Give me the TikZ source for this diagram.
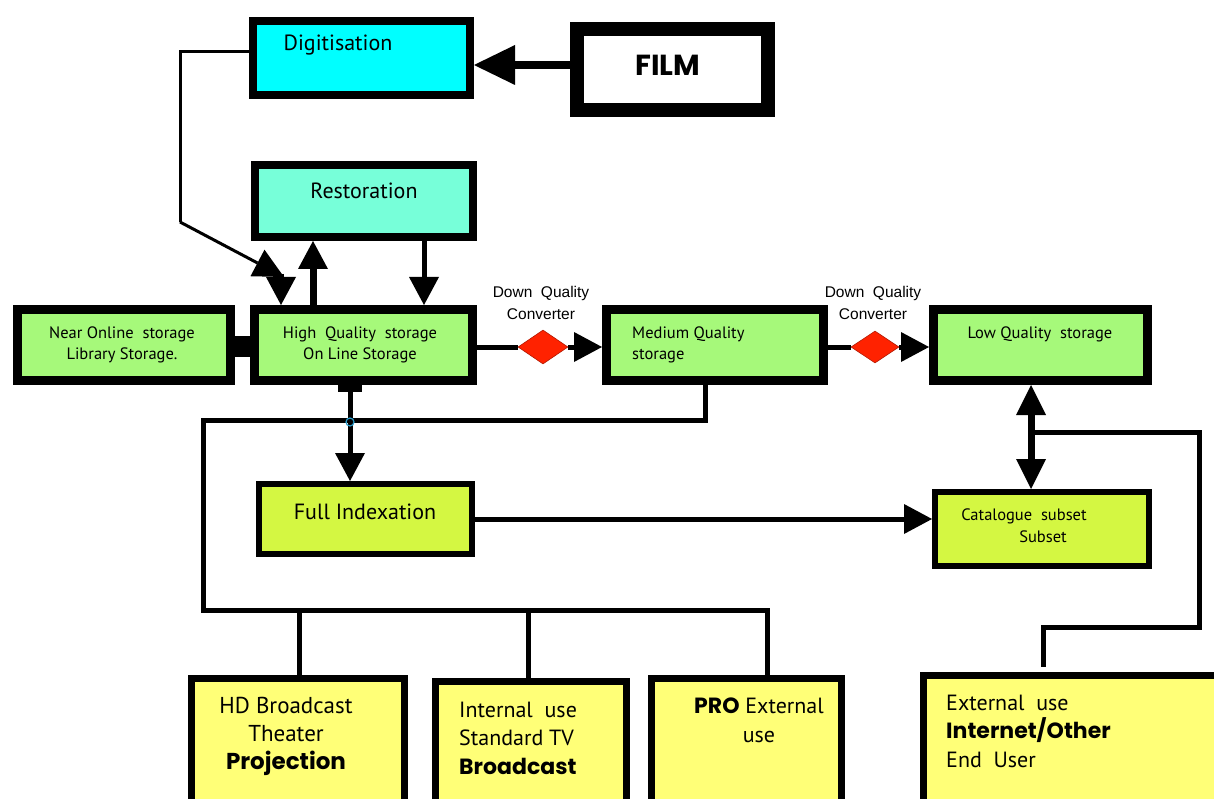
\documentclass[tikz,border=0pt]{standalone}
\usepackage{fontspec}
\setmainfont{PT Sans}
\newfontfamily\arialf{Liberation Sans}
\newfontfamily\heavy{Poppins}
\newcommand{\hv}[1]{{\heavy\bfseries #1}}
\usetikzlibrary{arrows.meta,shapes.geometric}
\definecolor{cdig}{HTML}{00FFFF}
\definecolor{crest}{HTML}{77FFD9}
\definecolor{cgreen}{HTML}{A6F97A}
\definecolor{cyg}{HTML}{D4F742}
\definecolor{cyel}{HTML}{FFFF77}
\definecolor{cred}{HTML}{FF2200}
\tikzset{
  blk/.style={draw=black, inner sep=0pt, align=center},
  txt/.style={inner sep=0pt, align=center},
  small/.style={font=\fontsize{16.5}{21}\selectfont},
  conn/.style={line width=5pt},
  tipA/.style={-{Triangle[length=28pt,width=30pt,line width=0pt]}},
  tipB/.style={-{Triangle[length=41pt,width=40pt,line width=0pt]}},
  conv/.style={diamond, draw=cred!70!black, line width=0.6pt, fill=cred, inner sep=0pt, minimum width=#1, minimum height=34pt},
}
\begin{document}
\begin{tikzpicture}[x=1pt,y=-1pt]
\clip (0,0) rectangle (1214,799);
\fill[white] (0,0) rectangle (1214,799);
% boxes
\node[blk, line width=8pt, fill=cdig, minimum width=217pt, minimum height=74pt] (dig) at (361.5,58) {};
\node[txt, font=\fontsize{22}{24}\selectfont] (digt) at (338,45) {Digitisation};
\node[blk, line width=14pt, fill=white, minimum width=191pt, minimum height=81pt] (film) at (672.5,69.5) {};
\node[txt, font=\heavy\bfseries\fontsize{29}{32}\selectfont] (filmt) at (668,65) {FILM};
\node[blk, line width=8pt, fill=crest, minimum width=218pt, minimum height=72pt] (rest) at (364,201) {};
\node[txt, font=\fontsize{22}{24}\selectfont] (restt) at (364,191) {Restoration};
\node[blk, line width=9pt, fill=cgreen, minimum width=213pt, minimum height=71pt] (near) at (124,345) {};
\node[txt, small] (neart) at (122,345) {Near Online\ \ storage\\Library Storage.};
\node[blk, line width=9pt, fill=cgreen, minimum width=218pt, minimum height=71pt] (hq) at (363.5,345) {};
\node[txt, small] (hqt) at (360,345) {High\ \ Quality\ \ storage\\On Line Storage};
\node[blk, line width=9pt, fill=cgreen, minimum width=217pt, minimum height=71pt] (med) at (715,345) {};
\node[txt, small, align=left, anchor=west] (medt) at (632,345) {Medium Quality\\storage};
\node[blk, line width=9pt, fill=cgreen, minimum width=214pt, minimum height=71pt] (low) at (1040.5,345) {};
\node[txt, small] (lowt) at (1040,334) {Low Quality\ \ storage};
\node[blk, line width=6pt, fill=cyg, minimum width=213pt, minimum height=70pt] (full) at (365.5,519) {};
\node[txt, font=\fontsize{22}{24}\selectfont] (fullt) at (365,512) {Full Indexation};
\node[blk, line width=6pt, fill=cyg, minimum width=214pt, minimum height=74pt] (cat) at (1042,529) {};
\node[txt, small] (catt1) at (1024,516) {Catalogue\ \ subset};
\node[txt, small] (catt2) at (1043,537) {Subset};
\node[blk, line width=7pt, fill=cyel, minimum width=213pt, minimum height=131pt] (hd) at (298,744) {};
\node[txt, font=\fontsize{23}{28}\selectfont] (hdt) at (286,736) {HD Broadcast\\Theater\\\hv{Projection}};
\node[blk, line width=7pt, fill=cyel, minimum width=191pt, minimum height=128pt] (int) at (531,745.5) {};
\node[txt, align=left, anchor=west, font=\fontsize{22}{28.5}\selectfont] (intt) at (459,738) {Internal\ \ use\\Standard TV\\\hv{Broadcast}};
\node[blk, line width=7pt, fill=cyel, minimum width=190pt, minimum height=131pt] (pro) at (746.5,744) {};
\node[txt, font=\fontsize{22}{29}\selectfont] (prot) at (759,720) {\hv{PRO} External\\use};
\node[blk, line width=7pt, fill=cyel, minimum width=303pt, minimum height=131pt] (ext) at (1075,741) {};
\node[txt, align=left, anchor=west, font=\fontsize{22}{28.5}\selectfont] (extt) at (946,731) {External\ \ use\\\hv{Internet/Other}\\End\ \ User};
% converters
\node[conv=50pt] (d1) at (543,347) {};
\node[conv=48pt, minimum height=32pt] (d2) at (875,347) {};
\node[txt, font=\arialf\fontsize{15.5}{22}\selectfont] (dq1) at (541,303) {Down\ \ Quality\\Converter};
\node[txt, font=\arialf\fontsize{15.5}{22}\selectfont] (dq2) at (873,303) {Down\ \ Quality\\Converter};
% film -> digitisation
\draw[line width=8pt, tipB] (film.west |- 0,65) -- (dig.east |- 0,65);
% digitisation -> high quality
\coordinate (c1) at (180,52);
\coordinate (c2) at (180,222);
\coordinate (c3) at (284,277);
\draw[line width=3pt, line join=miter] (dig.west |- c1) -- (c1) -- (c2);
\draw[line width=3pt, -{Triangle[length=30pt,width=30pt,line width=0pt]}] (c2) -- (c3);
\draw[line width=5pt, tipA] (281,274) -- (hq.north -| 281,0);
% hq <-> restoration
\draw[line width=7pt, tipA] (hq.north -| 313,0) -- (rest.south -| 313,0);
\draw[line width=5pt, tipA] (rest.south -| 424,0) -- (hq.north -| 424,0);
% near - hq bar
\fill (235,336) rectangle (250,357);
% converters chain
\draw[conn] (hq.east |- d1) -- (d1.west);
\draw[conn, tipA] (d1.east) -- (med.west |- d1);
\draw[conn] (med.east |- d2) -- (d2.west);
\draw[conn, tipA] (d2.east) -- (low.west |- d2);
% hq -> full indexation
\fill (338,385) rectangle (362,392);
\draw[conn, tipA] (350,390) -- (full.north -| 350,0);
% bus
\coordinate (b1) at (705,420);
\coordinate (b2) at (203,420);
\coordinate (b3) at (203,610);
\coordinate (b4) at (767,610);
\draw[conn, line join=miter] (med.south -| b1) -- (b1) -- (b2) -- (b3) -- (b4) -- (pro.north -| b4);
\draw[conn] (299,610) -- (hd.north -| 299,0);
\draw[conn] (528,610) -- (int.north -| 528,0);
\draw[cyan!80!black, line width=1.2pt] (350,422) circle (4pt);
% full -> catalogue
\draw[conn, tipA] (full.east |- 0,519) -- (cat.west |- 0,519);
% low <-> catalogue
\draw[line width=7pt, {Triangle[length=30pt,width=30pt,line width=0pt]}-{Triangle[length=30pt,width=30pt,line width=0pt]}] (low.south -| 1031,0) -- (cat.north -| 1031,0);
% external user link
\coordinate (e1) at (1031,432);
\coordinate (e2) at (1199,432);
\coordinate (e3) at (1199,627);
\coordinate (e4) at (1043,627);
\draw[conn, line join=miter] (e1) -- (e2) -- (e3) -- (e4) -- (1043,667);
\end{tikzpicture}
\end{document}
